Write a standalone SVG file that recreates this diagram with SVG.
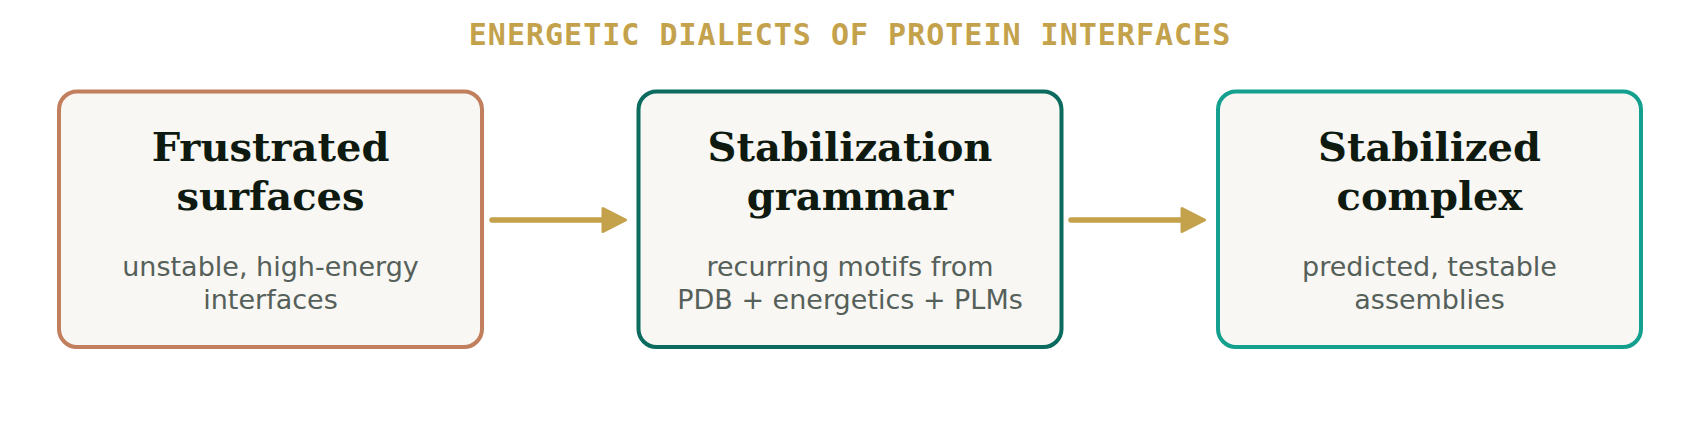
<svg xmlns="http://www.w3.org/2000/svg" width="1700" height="425" viewBox="0 0 1700 425">
<style>
.title{font-family:"DejaVu Sans Mono","Liberation Mono",monospace;font-weight:bold;font-size:30px;fill:#C4A24C;letter-spacing:1px}
.box{fill:#F8F7F3;stroke-width:4}
.head{font-family:"DejaVu Serif","Liberation Serif",serif;font-weight:bold;font-size:40px;fill:#0E1A10}
.sub{font-family:"DejaVu Sans","Liberation Sans",sans-serif;font-size:27px;fill:#56605A}
.arrow{stroke:#C4A24C;stroke-width:5.5;stroke-linecap:round;fill:none}
.head-tip{fill:#C4A24C;stroke:#C4A24C;stroke-width:3;stroke-linejoin:round}
</style>
<rect width="1700" height="425" fill="#FFFFFF"/>
<text class="title" x="850" y="45" text-anchor="middle">ENERGETIC DIALECTS OF PROTEIN INTERFACES</text>
<g id="connectors">
<line class="arrow" x1="492" y1="220" x2="606" y2="220"/>
<polygon class="head-tip" points="603,208.5 625.5,220 603,231.5"/>
<line class="arrow" x1="1071" y1="220" x2="1185" y2="220"/>
<polygon class="head-tip" points="1182,208.5 1204.5,220 1182,231.5"/>
</g>
<g id="node-frustrated">
<rect class="box" x="59" y="91.5" width="423" height="255.5" rx="18" stroke="#C17F5E"/>
<text class="head" x="270.5" y="160.5" text-anchor="middle">Frustrated</text>
<text class="head" x="270.5" y="209.5" text-anchor="middle">surfaces</text>
<text class="sub" x="270.5" y="275.5" text-anchor="middle">unstable, high-energy</text>
<text class="sub" x="270.5" y="309" text-anchor="middle">interfaces</text>
</g>
<g id="node-grammar">
<rect class="box" x="638.5" y="91.5" width="423" height="255.5" rx="18" stroke="#0B6B5E"/>
<text class="head" x="850" y="160.5" text-anchor="middle">Stabilization</text>
<text class="head" x="850" y="209.5" text-anchor="middle">grammar</text>
<text class="sub" x="850" y="275.5" text-anchor="middle">recurring motifs from</text>
<text class="sub" x="850" y="309" text-anchor="middle">PDB + energetics + PLMs</text>
</g>
<g id="node-complex">
<rect class="box" x="1218" y="91.5" width="423" height="255.5" rx="18" stroke="#14A08E"/>
<text class="head" x="1429.5" y="160.5" text-anchor="middle">Stabilized</text>
<text class="head" x="1429.5" y="209.5" text-anchor="middle">complex</text>
<text class="sub" x="1429.5" y="275.5" text-anchor="middle">predicted, testable</text>
<text class="sub" x="1429.5" y="309" text-anchor="middle">assemblies</text>
</g>
</svg>
